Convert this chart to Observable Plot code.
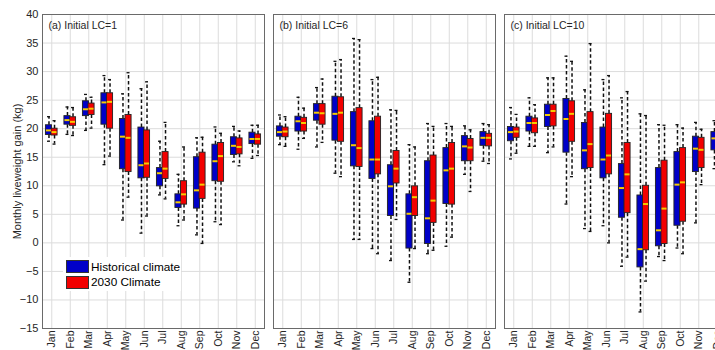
<!DOCTYPE html>
<html><head><meta charset="utf-8">
<script src="https://cdn.jsdelivr.net/npm/d3@7"></script>
<script src="https://cdn.jsdelivr.net/npm/@observablehq/plot@0.6"></script>
<style>
html,body{margin:0;padding:0;background:#fff;overflow:hidden;}
#wrap{position:relative;width:726px;height:350px;}
#legend{position:absolute;left:63px;top:257px;width:118px;height:34px;background:#fff;font:11.8px "Liberation Sans",Arial,sans-serif;color:#000;}
.row{position:absolute;left:3px;height:13px;display:flex;align-items:center;white-space:nowrap;}
.sw{width:21px;height:11px;border:1px solid #333;margin-right:2px;box-sizing:content-box;}
</style></head><body>
<div id="wrap"><div id="chart"></div><div id="legend"></div></div>
<script>
const months = ["Jan","Feb","Mar","Apr","May","Jun","Jul","Aug","Sep","Oct","Nov","Dec"];
const panelKeys = ["a","b","c"];
const panelTitles = ["(a) Initial LC=1","(b) Initial LC=6","(c) Initial LC=10"];
const seriesNames = ["Historical climate","2030 Climate"];
const seriesColors = ["#0000c8","#f20000"];
const yTicks = [-15,-10,-5,0,5,10,15,20,25,30,35,40];

// each month: [lower whisker, Q1, median, Q3, upper whisker]
const histA = [[17.8,18.9,19.7,20.6,22.1],[19.0,20.7,21.5,22.2,23.8],[19.7,22.2,23.4,24.8,26.0],[13.7,20.7,24.6,26.2,29.3],[4.0,12.9,18.6,21.7,26.1],[1.7,11.3,13.6,20.2,27.0],[8.4,9.9,12.2,13.1,17.8],[3.0,6.1,7.1,8.5,12.0],[1.4,6.0,9.2,15.0,18.4],[3.7,10.8,14.3,17.2,20.3],[14.2,15.4,17.0,18.5,20.4],[14.8,17.3,18.2,19.3,20.6]];
const futA  = [[17.3,18.8,19.4,20.0,21.4],[18.8,20.5,21.2,22.0,23.7],[20.1,22.4,23.5,24.4,25.5],[15.2,20.0,24.7,26.2,28.6],[8.0,12.4,18.4,22.4,29.8],[4.7,11.4,13.9,19.7,28.2],[7.7,11.2,13.0,15.9,21.1],[4.0,6.7,8.5,10.8,16.8],[-0.1,7.7,10.2,15.8,18.5],[3.2,10.7,15.2,17.5,19.2],[13.5,15.5,16.8,18.3,19.6],[15.3,17.2,18.2,19.0,20.6]];
const histB = [[17.2,18.6,19.4,20.4,22.4],[16.4,19.5,21.3,22.1,25.5],[16.8,21.4,22.8,24.3,27.2],[12.2,17.9,22.6,25.6,31.8],[0.6,13.4,17.1,22.9,35.8],[-1.0,11.2,14.6,21.3,28.6],[-3.1,4.7,9.9,13.6,23.3],[-6.9,-1.0,5.1,8.5,17.2],[-1.9,-0.2,4.3,14.3,20.9],[-0.6,6.8,12.7,16.6,20.9],[12.0,14.3,16.9,18.7,20.5],[14.3,17.0,18.4,19.4,20.9]];
const futB  = [[16.9,18.5,19.5,20.2,22.1],[18.3,19.5,21.0,21.9,23.6],[17.6,20.7,22.7,24.3,28.7],[11.6,17.7,22.8,25.5,32.1],[0.6,13.3,16.6,23.6,35.6],[-1.9,12.0,14.6,22.1,29.0],[4.1,10.4,13.0,16.1,23.2],[-1.0,4.7,8.0,9.9,16.8],[-1.3,3.5,7.4,15.3,20.4],[1.0,6.7,13.0,17.5,20.4],[9.0,14.3,16.7,18.2,19.8],[13.9,16.9,18.4,19.1,20.7]];
const histC = [[14.7,17.8,19.4,20.3,23.7],[16.9,19.5,21.0,22.1,25.4],[15.8,20.3,22.4,24.2,28.9],[6.8,15.8,21.7,25.2,32.7],[2.5,12.9,16.2,21.0,26.8],[3.0,11.3,14.6,20.2,28.6],[-4.1,4.4,9.6,13.8,25.4],[-12.1,-4.3,-1.1,8.3,22.6],[-2.4,-0.6,2.2,13.1,20.7],[-0.9,3.0,10.2,15.9,20.7],[3.5,12.4,16.5,18.6,21.1],[13.0,16.2,18.3,19.4,21.4]];
const futC  = [[15.7,18.4,19.5,20.2,22.5],[16.9,19.2,21.0,21.8,24.2],[16.8,20.4,23.1,24.2,28.9],[11.6,17.7,22.6,24.8,31.8],[2.0,13.1,17.3,22.9,34.9],[0.0,12.0,15.3,22.6,29.3],[-2.5,5.2,12.0,17.5,26.5],[-6.7,-1.3,6.8,10.0,22.3],[-3.1,-0.2,6.0,14.4,20.6],[-1.9,3.7,10.6,16.6,20.1],[10.2,13.1,16.3,18.4,19.9],[13.8,16.5,18.3,19.1,20.8]];

const sets = {a: [histA, futA], b: [histB, futB], c: [histC, futC]};
const rows = panelKeys.flatMap(p => [0, 1].flatMap(s => sets[p][s].map((v, i) => ({
  panel: p, s, m: i + 1, lo: v[0], q1: v[1], med: v[2], q3: v[3], hi: v[4]
}))));
const titles = panelKeys.map((k, i) => ({panel: k, title: panelTitles[i]}));

const OFF = 0.15, HALF = 0.165, CAP = 0.08;
const cx = d => d.m + (d.s === 0 ? -OFF : OFF);
const font = '"Liberation Sans", Arial, Helvetica, sans-serif';

const chart = Plot.plot({
  width: 726, height: 350,
  marginLeft: 41, marginRight: 0, marginTop: 14, marginBottom: 22,
  style: {fontFamily: font, fontSize: "11px", color: "#262626", background: "#fff", maxWidth: "none", overflow: "visible"},
  fx: {domain: panelKeys, paddingInner: 0.041, paddingOuter: 0, axis: null, label: null},
  x: {domain: [0.5, 12.5], axis: null},
  y: {domain: [-15, 40], axis: null},
  marks: [
    Plot.gridY(yTicks, {stroke: "#dcdcdc", strokeOpacity: 1}),
    Plot.gridX(d3.range(1, 13), {stroke: "#dcdcdc", strokeOpacity: 1}),
    Plot.ruleX(rows, {fx: "panel", x: cx, y1: "q3", y2: "hi", stroke: "#111", strokeWidth: 1.5, strokeDasharray: "3.5,2.5"}),
    Plot.ruleX(rows, {fx: "panel", x: cx, y1: "q1", y2: "lo", stroke: "#111", strokeWidth: 1.5, strokeDasharray: "3.5,2.5"}),
    Plot.ruleY(rows, {fx: "panel", y: "hi", x1: d => cx(d) - CAP, x2: d => cx(d) + CAP, stroke: "#111", strokeWidth: 1.3}),
    Plot.ruleY(rows, {fx: "panel", y: "lo", x1: d => cx(d) - CAP, x2: d => cx(d) + CAP, stroke: "#111", strokeWidth: 1.3}),
    Plot.rect(rows, {fx: "panel", x1: d => cx(d) - HALF, x2: d => cx(d) + HALF, y1: "q1", y2: "q3",
      fill: d => seriesColors[d.s], stroke: "#222", strokeWidth: 0.9}),
    Plot.ruleY(rows, {fx: "panel", y: "med", x1: d => cx(d) - HALF + 0.03, x2: d => cx(d) + HALF - 0.03, stroke: "#f5cc00", strokeWidth: 2}),
    Plot.frame({stroke: "#6a6a6a"}),
    Plot.axisY(yTicks, {anchor: "left", tickSize: 0, tickPadding: 4, fontSize: 11,
      label: "Monthly liveweight gain (kg)", labelAnchor: "center", labelArrow: false, labelOffset: 29}),
    Plot.axisX(d3.range(1, 13), {anchor: "bottom", tickSize: 0, tickPadding: 2, tickRotate: -90, fontSize: 10.5,
      tickFormat: i => months[i - 1], label: null}),
    Plot.text(titles, {fx: "panel", text: "title", frameAnchor: "top-left", dx: 6, dy: 7, fontSize: 10.5, fill: "#262626"})
  ]
});
document.getElementById("chart").appendChild(chart);

const legend = document.getElementById("legend");
seriesNames.forEach((name, i) => {
  const row = document.createElement("div");
  row.className = "row";
  row.style.top = (3 + i * 15.5) + "px";
  const sw = document.createElement("div");
  sw.className = "sw";
  sw.style.background = seriesColors[i];
  const t = document.createElement("span");
  t.textContent = name;
  row.appendChild(sw); row.appendChild(t);
  legend.appendChild(row);
});
</script>
</body></html>
